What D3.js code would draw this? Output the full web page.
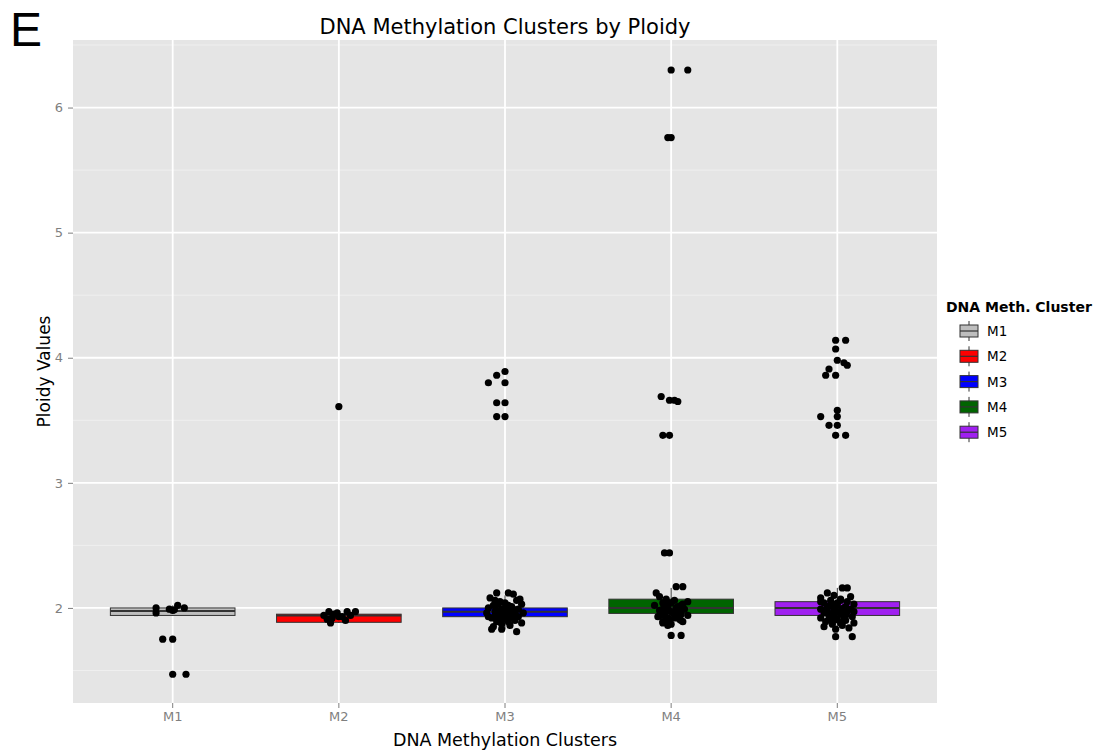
<!DOCTYPE html>
<html>
<head>
<meta charset="utf-8">
<script src="https://cdnjs.cloudflare.com/ajax/libs/d3/7.8.5/d3.min.js"></script>
<style>
  body { margin: 0; background: #fff; }
  text { font-family: "DejaVu Sans", sans-serif; }
</style>
</head>
<body>
<svg id="chart" width="1108" height="753"></svg>
<script>
// clusters and their box colours
var clusters = ["M1", "M2", "M3", "M4", "M5"];
var fills = ["#bebebe", "#ff0000", "#0000ff", "#006400", "#a020f0"];

// box stats: [lowWhisker, q1, median, q3, highWhisker]
var boxM1 = [1.94, 1.94, 1.975, 2.0, 2.02];
var boxM2 = [1.88, 1.885, 1.94, 1.95, 1.97];
var boxM3 = [1.83, 1.93, 1.97, 2.0, 2.1];
var boxM4 = [1.87, 1.956, 2.0, 2.07, 2.16];
var boxM5 = [1.84, 1.94, 2.0, 2.05, 2.16];

// jittered points: [ploidy, horizontal jitter in category units]
var ptsM1 = [[2.0, -0.1], [1.96, -0.1], [1.99, -0.02], [1.98, 0.0], [1.985, 0.01], [2.02, 0.03], [2.0, 0.07],
  [1.75, -0.06], [1.75, 0.0], [1.47, 0.0], [1.47, 0.08]];
var ptsM2 = [[1.94, -0.09], [1.97, -0.06], [1.92, -0.04], [1.96, -0.01], [1.93, 0.02], [1.97, 0.05],
  [1.94, 0.07], [1.97, 0.1], [1.91, -0.07], [1.9, 0.04], [1.88, -0.05], [1.95, -0.03], [1.93, 0.0], [3.61, 0.0]];
var ptsM3 = [[2.12, -0.05], [2.12, 0.02], [2.11, 0.05], [2.08, -0.09], [2.06, 0.07], [2.05, -0.03], [2.04, 0.0],
  [2.03, 0.1], [2.02, -0.07], [2.01, 0.04], [2.0, -0.1], [1.99, 0.08], [1.99, -0.02], [1.98, 0.02], [1.97, -0.06],
  [1.97, 0.06], [1.96, 0.11], [1.96, -0.11], [1.95, 0.0], [1.94, -0.04], [1.94, 0.04], [1.93, 0.08], [1.92, -0.08],
  [1.91, 0.01], [1.9, 0.06], [1.89, -0.05], [1.88, 0.1], [1.87, -0.02], [1.86, 0.03], [1.85, -0.07], [1.83, -0.08],
  [1.83, -0.02], [1.81, 0.07], [2.07, 0.09], [1.93, -0.1],
  [2.03, -0.04], [2.0, 0.0], [1.98, -0.05], [1.97, 0.02], [1.96, -0.03], [1.95, 0.05], [1.94, 0.0], [1.93, -0.06],
  [1.92, 0.04], [1.91, -0.02], [1.99, 0.05], [2.02, 0.02], [1.9, -0.04], [1.89, 0.02], [2.06, -0.06],
  [3.89, 0.0], [3.86, -0.05], [3.8, -0.1], [3.8, 0.0], [3.64, -0.05], [3.64, 0.0], [3.53, -0.05], [3.53, 0.0]];
var ptsM4 = [[2.17, 0.03], [2.17, 0.07], [2.12, -0.09], [2.09, -0.07], [2.07, -0.03], [2.06, 0.02], [2.05, 0.1],
  [2.04, -0.05], [2.03, 0.07], [2.02, -0.1], [2.01, 0.04], [2.0, -0.02], [1.99, 0.08], [1.98, -0.07], [1.97, 0.0],
  [1.96, 0.05], [1.95, -0.04], [1.94, 0.1], [1.93, -0.08], [1.92, 0.02], [1.91, -0.03], [1.9, 0.06], [1.89, 0.07],
  [1.88, -0.05], [1.87, 0.0], [1.86, -0.02], [1.78, 0.0], [1.78, 0.06],
  [2.03, -0.02], [2.0, 0.03], [1.99, -0.05], [1.98, 0.05], [1.97, -0.03], [1.96, 0.01], [1.95, 0.06], [1.94, -0.06],
  [1.93, 0.03], [1.92, -0.02], [1.91, 0.05], [2.04, 0.0], [2.02, 0.06], [1.9, -0.01], [1.89, -0.05],
  [6.3, 0.0], [6.3, 0.1], [5.76, -0.02], [5.76, 0.0], [3.69, -0.06], [3.66, -0.01], [3.66, 0.02], [3.65, 0.04],
  [3.38, -0.05], [3.38, -0.01], [2.44, -0.04], [2.44, -0.01]];
var ptsM5 = [[2.16, 0.03], [2.16, 0.06], [2.12, -0.06], [2.1, -0.02], [2.09, 0.08], [2.08, -0.1], [2.07, 0.02],
  [2.06, -0.04], [2.05, 0.06], [2.04, -0.08], [2.03, 0.1], [2.02, 0.0], [2.01, -0.06], [2.0, 0.04], [1.99, -0.1],
  [1.99, 0.08], [1.98, -0.02], [1.97, 0.06], [1.96, -0.08], [1.95, 0.02], [1.94, -0.05], [1.93, 0.09], [1.92, -0.1],
  [1.91, 0.0], [1.9, 0.05], [1.89, -0.07], [1.88, 0.1], [1.87, -0.03], [1.86, 0.03], [1.85, -0.08], [1.84, 0.07],
  [1.83, -0.01], [1.77, -0.01], [1.77, 0.09], [2.05, -0.1], [1.97, 0.1], [2.03, -0.03],
  [2.04, 0.0], [2.02, -0.04], [2.01, 0.05], [2.0, -0.02], [1.99, 0.03], [1.98, -0.06], [1.97, 0.0], [1.96, 0.04],
  [1.95, -0.03], [1.94, 0.05], [1.93, -0.02], [1.92, 0.04], [1.91, -0.05], [2.06, 0.02], [1.9, -0.02], [1.88, 0.02],
  [4.14, -0.01], [4.14, 0.05], [4.07, -0.01], [3.98, 0.0], [3.96, 0.04], [3.94, 0.06], [3.91, -0.05],
  [3.86, -0.07], [3.86, -0.01], [3.58, 0.0], [3.53, 0.0], [3.53, -0.1], [3.46, -0.05], [3.46, 0.0],
  [3.38, -0.01], [3.38, 0.05]];

var yTicks = [2, 3, 4, 5, 6];
var yMinor = [1.5, 2.5, 3.5, 4.5, 5.5, 6.5];
var yDomain = [1.24, 6.54];

var boxes = [boxM1, boxM2, boxM3, boxM4, boxM5];
var points = [ptsM1, ptsM2, ptsM3, ptsM4, ptsM5];

var svg = d3.select("#chart");
var panel = { left: 73, right: 937, top: 40, bottom: 703 };

var x = d3.scaleBand()
    .domain(clusters)
    .range([panel.left, panel.right])
    .paddingOuter(0.1);
var step = x.step();
function cx(c) { return x(c) + x.bandwidth() / 2; }

var y = d3.scaleLinear()
    .domain(yDomain)
    .range([panel.bottom, panel.top]);

// panel background
svg.append("rect")
    .attr("x", panel.left).attr("y", panel.top)
    .attr("width", panel.right - panel.left)
    .attr("height", panel.bottom - panel.top)
    .attr("fill", "#e5e5e5");

var grid = svg.append("g");
grid.selectAll(".minor").data(yMinor).enter().append("line")
    .attr("x1", panel.left).attr("x2", panel.right)
    .attr("y1", function(d) { return y(d); }).attr("y2", function(d) { return y(d); })
    .attr("stroke", "#f2f2f2").attr("stroke-width", 0.8);
grid.selectAll(".major").data(yTicks).enter().append("line")
    .attr("x1", panel.left).attr("x2", panel.right)
    .attr("y1", function(d) { return y(d); }).attr("y2", function(d) { return y(d); })
    .attr("stroke", "#ffffff").attr("stroke-width", 1.8);
grid.selectAll(".vmajor").data(clusters).enter().append("line")
    .attr("x1", cx).attr("x2", cx)
    .attr("y1", panel.top).attr("y2", panel.bottom)
    .attr("stroke", "#ffffff").attr("stroke-width", 1.8);

// boxplots
var boxW = step * 0.75;
clusters.forEach(function(c, i) {
    var b = boxes[i];
    var g = svg.append("g");
    g.append("line")
        .attr("x1", cx(c)).attr("x2", cx(c))
        .attr("y1", y(b[0])).attr("y2", y(b[4]))
        .attr("stroke", "#333333").attr("stroke-width", 1);
    g.append("rect")
        .attr("x", cx(c) - boxW / 2).attr("y", y(b[3]))
        .attr("width", boxW).attr("height", y(b[1]) - y(b[3]))
        .attr("fill", fills[i]).attr("stroke", "#333333").attr("stroke-width", 1);
    g.append("line")
        .attr("x1", cx(c) - boxW / 2).attr("x2", cx(c) + boxW / 2)
        .attr("y1", y(b[2])).attr("y2", y(b[2]))
        .attr("stroke", "#333333").attr("stroke-width", 2);
});

// jittered points
clusters.forEach(function(c, i) {
    svg.append("g").selectAll("circle")
        .data(points[i])
        .enter().append("circle")
        .attr("cx", function(d) { return cx(c) + d[1] * step; })
        .attr("cy", function(d) { return y(d[0]); })
        .attr("r", 3.6)
        .attr("fill", "#000");
});

// axes
var yAxis = svg.append("g")
    .attr("transform", "translate(" + panel.left + ",0)")
    .call(d3.axisLeft(y).tickValues(yTicks).tickSize(5).tickPadding(5).tickFormat(d3.format("d")));
var xAxis = svg.append("g")
    .attr("transform", "translate(0," + panel.bottom + ")")
    .call(d3.axisBottom(x).tickSize(5).tickPadding(4));
[yAxis, xAxis].forEach(function(a) {
    a.select(".domain").remove();
    a.selectAll(".tick line").attr("stroke", "#7f7f7f");
    a.selectAll(".tick text")
        .attr("fill", "#7f7f7f")
        .style("font-size", "13px")
        .style("font-family", "DejaVu Sans, sans-serif");
});

// titles
svg.append("text")
    .attr("x", 505).attr("y", 34)
    .attr("text-anchor", "middle")
    .style("font-size", "21px")
    .text("DNA Methylation Clusters by Ploidy");

svg.append("text")
    .attr("x", 505).attr("y", 746)
    .attr("text-anchor", "middle")
    .style("font-size", "17.5px")
    .text("DNA Methylation Clusters");

svg.append("text")
    .attr("transform", "translate(50," + (panel.top + panel.bottom) / 2 + ") rotate(-90)")
    .attr("text-anchor", "middle")
    .style("font-size", "17px")
    .text("Ploidy Values");

svg.append("text")
    .attr("x", 10).attr("y", 46)
    .style("font-family", "Liberation Sans, Arial, sans-serif")
    .style("font-size", "48px")
    .text("E");

// legend
var legend = svg.append("g").attr("transform", "translate(946,0)");
legend.append("text")
    .attr("x", 0).attr("y", 312)
    .style("font-size", "14px")
    .style("font-weight", "bold")
    .text("DNA Meth. Cluster");

var keys = legend.selectAll(".key")
    .data(clusters)
    .enter().append("g")
    .attr("class", "key")
    .attr("transform", function(d, i) { return "translate(14," + (331 + i * 25.3) + ")"; });

keys.append("line")
    .attr("x1", 9).attr("x2", 9).attr("y1", -10).attr("y2", 10)
    .attr("stroke", "#333333");
keys.append("rect")
    .attr("x", 0).attr("y", -6).attr("width", 18).attr("height", 12)
    .attr("fill", function(d, i) { return fills[i]; })
    .attr("stroke", "#333333");
keys.append("line")
    .attr("x1", 0).attr("x2", 18).attr("y1", 0).attr("y2", 0)
    .attr("stroke", "#333333").attr("stroke-width", 1.2);
keys.append("text")
    .attr("x", 27).attr("y", 5)
    .style("font-size", "13.5px")
    .text(function(d) { return d; });
</script>
</body>
</html>
